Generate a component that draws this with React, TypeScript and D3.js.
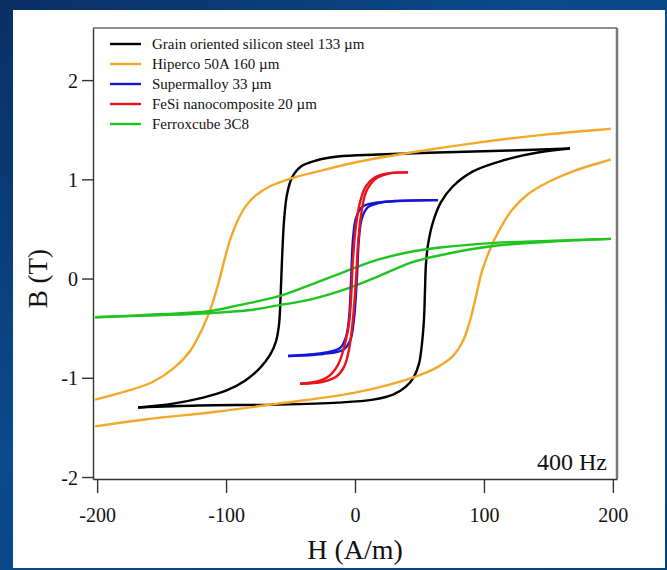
import React, { useEffect, useRef } from "react";
import * as d3 from "d3";

// hysteresis loops at 400 Hz: [H (A/m), B (T)]
const series = [
  { name: "Grain oriented silicon steel 133 µm", color: "#000000" },
  { name: "Hiperco 50A 160 µm", color: "#f4a82a" },
  { name: "Supermalloy 33 µm", color: "#1515d8" },
  { name: "FeSi nanocomposite 20 µm", color: "#e8141c" },
  { name: "Ferroxcube 3C8", color: "#1fc41f" },
];

const steelDown = [
  [166.7, 1.31], [120.9, 1.29], [64.3, 1.27], [17.8, 1.25], [-13.2, 1.23], [-30.2, 1.19],
  [-41.9, 1.13], [-48.8, 1.02], [-52.7, 0.85], [-55.0, 0.59], [-56.6, 0.19], [-57.8, -0.21],
  [-58.9, -0.46], [-61.2, -0.63], [-65.9, -0.77], [-73.6, -0.9], [-85.3, -1.03], [-100.0, -1.13],
  [-117.8, -1.2], [-141.1, -1.26], [-168.2, -1.3],
];
const steelUp = [
  [-168.2, -1.3], [-121.7, -1.28], [-59.7, -1.27], [-13.2, -1.25], [14.0, -1.22], [29.5, -1.17],
  [39.5, -1.09], [45.7, -0.99], [49.6, -0.86], [51.9, -0.66], [53.5, -0.41], [54.3, -0.11],
  [55.0, 0.14], [56.6, 0.34], [60.5, 0.57], [66.7, 0.77], [76.0, 0.93], [91.5, 1.08],
  [114.7, 1.19], [141.9, 1.27], [166.7, 1.31],
];

const hipercoDown = [
  [198.4, 1.51], [147.3, 1.45], [95.3, 1.37], [43.4, 1.27], [0, 1.17], [-28.7, 1.08],
  [-51.9, 1.0], [-65.9, 0.93], [-76.7, 0.84], [-85.3, 0.72], [-91.5, 0.57], [-96.9, 0.39],
  [-101.6, 0.17], [-106.2, -0.06], [-111.6, -0.29], [-118.6, -0.51], [-127.9, -0.73],
  [-140.3, -0.9], [-156.6, -1.04], [-176.0, -1.13], [-201.6, -1.22],
];
const hipercoUp = [
  [-201.6, -1.49], [-162.8, -1.42], [-106.2, -1.34], [-59.7, -1.26], [0, -1.15], [46.5, -0.99],
  [64.3, -0.89], [76.0, -0.78], [83.7, -0.63], [89.1, -0.43], [93.8, -0.18], [98.4, 0.07],
  [103.9, 0.27], [111.6, 0.48], [121.7, 0.69], [134.1, 0.85], [149.6, 0.97], [169.0, 1.08],
  [198.4, 1.2],
];

const supermalloyDown = [
  [64.3, 0.79], [33.3, 0.78], [14.0, 0.76], [5.4, 0.72], [0.8, 0.61], [-1.6, 0.39],
  [-3.1, -0.04], [-4.7, -0.41], [-7.0, -0.59], [-11.6, -0.7], [-24.8, -0.75], [-51.9, -0.78],
];
const supermalloyUp = [
  [-51.9, -0.78], [-24.8, -0.76], [-9.3, -0.72], [-3.9, -0.63], [-0.8, -0.41], [1.6, 0.04],
  [3.1, 0.41], [5.4, 0.61], [10.1, 0.72], [21.7, 0.77], [64.3, 0.79],
];

const fesiDown = [
  [41.1, 1.07], [25.6, 1.06], [15.5, 1.02], [8.5, 0.93], [3.9, 0.77], [0.8, 0.54],
  [-1.6, 0.19], [-3.1, -0.21], [-4.7, -0.46], [-7.8, -0.66], [-13.2, -0.87], [-20.9, -0.99],
  [-30.2, -1.04], [-42.6, -1.06],
];
const fesiUp = [
  [-42.6, -1.06], [-24.8, -1.04], [-14.7, -0.99], [-8.5, -0.89], [-4.7, -0.72], [-1.6, -0.41],
  [0.8, -0.01], [2.3, 0.34], [4.7, 0.64], [8.5, 0.87], [15.5, 1.0], [27.1, 1.06], [41.1, 1.07],
];

const ferroxDown = [
  [198.4, 0.4], [149.6, 0.38], [108.5, 0.36], [64.3, 0.31], [43.4, 0.27], [17.8, 0.19],
  [-7.8, 0.07], [-34.1, -0.06], [-59.7, -0.18], [-90.7, -0.27], [-114.0, -0.33], [-152.7, -0.36],
  [-201.6, -0.39],
];
const ferroxUp = [
  [-201.6, -0.39], [-152.7, -0.37], [-114.0, -0.35], [-83.0, -0.32], [-59.7, -0.27], [-34.1, -0.21],
  [-7.8, -0.11], [17.8, 0.02], [43.4, 0.16], [64.3, 0.23], [108.5, 0.33], [149.6, 0.37], [198.4, 0.4],
];

const branches = [
  { s: 0, pts: steelDown }, { s: 0, pts: steelUp },
  { s: 1, pts: hipercoDown }, { s: 1, pts: hipercoUp },
  { s: 4, pts: ferroxDown }, { s: 4, pts: ferroxUp },
  { s: 2, pts: supermalloyDown }, { s: 2, pts: supermalloyUp },
  { s: 3, pts: fesiDown }, { s: 3, pts: fesiUp },
];

const xTicks = [-200, -100, 0, 100, 200];
const yTicks = [-2, -1, 0, 1, 2];

const W = 667;
const H = 570;
const FONT = "'Liberation Serif', 'Times New Roman', serif";

function App() {
  const ref = useRef<SVGSVGElement>(null);

  useEffect(() => {
    const svg = d3.select(ref.current);
    svg.selectAll("*").remove();

    const left = 93, right = 617, top = 28, bottom = 479;
    const x = d3.scaleLinear().domain([-203.2, 203.2]).range([left, right]);
    const y = d3.scaleLinear().domain([-2.02, 2.525]).range([bottom, top]);

    // blue slide background
    const defs = svg.append("defs");
    const g1 = defs.append("linearGradient").attr("id", "bg").attr("x1", 0).attr("y1", 0).attr("x2", 1).attr("y2", 1);
    g1.append("stop").attr("offset", "0%").attr("stop-color", "#0a2f63");
    g1.append("stop").attr("offset", "40%").attr("stop-color", "#0b4a8c");
    g1.append("stop").attr("offset", "100%").attr("stop-color", "#08407c");
    svg.append("rect").attr("width", W).attr("height", H).attr("fill", "url(#bg)");
    svg.append("rect").attr("x", 13).attr("y", 10).attr("width", 652).attr("height", 558).attr("fill", "#ffffff");

    // curves
    const line = d3
      .line<number[]>()
      .x((d) => x(d[0]))
      .y((d) => y(d[1]))
      .curve(d3.curveCatmullRom.alpha(0.5));
    branches.forEach((b) => {
      svg
        .append("path")
        .attr("d", line(b.pts))
        .attr("fill", "none")
        .attr("stroke", series[b.s].color)
        .attr("stroke-width", 2.4)
        .attr("stroke-linejoin", "round");
    });

    // frame
    svg.append("line").attr("x1", left).attr("x2", right).attr("y1", top).attr("y2", top).attr("stroke", "#222").attr("stroke-width", 1.2);
    svg.append("line").attr("x1", right).attr("x2", right).attr("y1", top).attr("y2", bottom).attr("stroke", "#777").attr("stroke-width", 2.5);

    // axes
    const fmt = (d: any) => String(d);
    const xAxis = svg
      .append("g")
      .attr("transform", `translate(0,${bottom})`)
      .call(d3.axisBottom(x).tickValues(xTicks).tickSize(14).tickSizeOuter(0).tickFormat(fmt));
    const yAxis = svg
      .append("g")
      .attr("transform", `translate(${left},0)`)
      .call(d3.axisLeft(y).tickValues(yTicks).tickSize(11).tickSizeOuter(0).tickFormat(fmt));
    [xAxis, yAxis].forEach((a) => {
      a.select(".domain").attr("stroke", "#333").attr("stroke-width", 1.4);
      a.selectAll(".tick line").attr("stroke", "#333").attr("stroke-width", 1.4);
      a.selectAll(".tick text").attr("font-family", FONT).attr("font-size", 20).attr("fill", "#111");
    });
    xAxis.selectAll(".tick text").attr("dy", "0").attr("y", 43);
    yAxis.selectAll(".tick text").attr("x", -15).attr("dy", "0.36em");

    // axis titles
    svg
      .append("text")
      .attr("x", x(0))
      .attr("y", 559)
      .attr("text-anchor", "middle")
      .attr("font-family", FONT)
      .attr("font-size", 28)
      .attr("fill", "#111")
      .text("H (A/m)");
    svg
      .append("text")
      .attr("transform", `translate(47,${y(0)}) rotate(-90)`)
      .attr("text-anchor", "middle")
      .attr("font-family", FONT)
      .attr("font-size", 27)
      .attr("fill", "#111")
      .text("B (T)");

    // frequency label
    svg
      .append("text")
      .attr("x", 607)
      .attr("y", 470)
      .attr("text-anchor", "end")
      .attr("font-family", FONT)
      .attr("font-size", 24)
      .attr("fill", "#111")
      .text("400 Hz");

    // legend
    const lg = svg.append("g").attr("transform", "translate(110,44)");
    series.forEach((s, i) => {
      const row = lg.append("g").attr("transform", `translate(0,${i * 20})`);
      row.append("line").attr("x1", 0).attr("x2", 31).attr("stroke", s.color).attr("stroke-width", 2.4);
      row
        .append("text")
        .attr("x", 42)
        .attr("y", 5)
        .attr("font-family", FONT)
        .attr("font-size", 15)
        .attr("fill", "#111")
        .text(s.name);
    });
  }, []);

  return (
    <div style={{ position: "absolute", left: 0, top: 0 }}>
      <svg ref={ref} width={W} height={H} style={{ display: "block" }} />
    </div>
  );
}

export default App;
